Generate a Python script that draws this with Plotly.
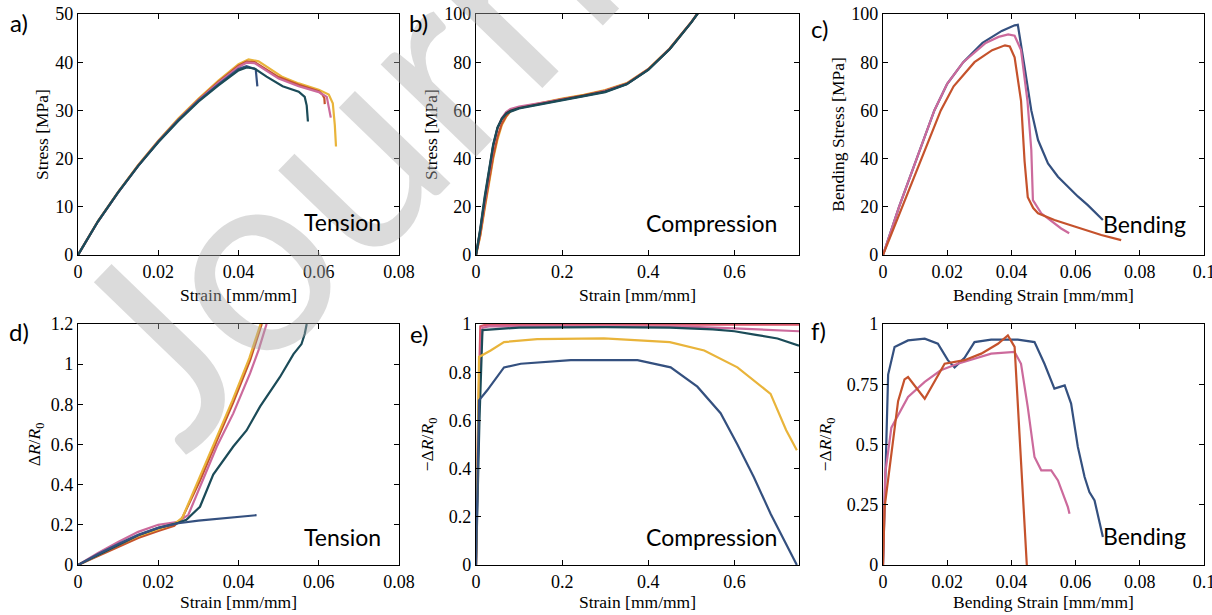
import plotly.graph_objects as go

# ---------------- data ----------------
# a) tension stress-strain
a_gold_x = [0, 0.005, 0.01, 0.015, 0.02, 0.025, 0.03, 0.035, 0.04, 0.0425, 0.045, 0.048, 0.051, 0.055, 0.06, 0.0625, 0.0635, 0.064, 0.0643]
a_gold_y = [0, 7.1, 13.1, 18.7, 23.7, 28.3, 32.4, 36.2, 39.6, 40.6, 40.2, 38.5, 36.9, 35.6, 34.3, 33.3, 31.5, 27, 22.5]
a_orange_x = [0, 0.005, 0.01, 0.015, 0.02, 0.025, 0.03, 0.035, 0.04, 0.042, 0.044, 0.047, 0.05, 0.055, 0.06, 0.061, 0.0614, 0.0615]
a_orange_y = [0, 7, 13, 18.6, 23.6, 28.1, 32.2, 35.9, 39.3, 40.1, 40, 38.4, 36.9, 35.3, 34, 33.2, 32.5, 31.3]
a_pink_x = [0, 0.005, 0.01, 0.015, 0.02, 0.025, 0.03, 0.035, 0.04, 0.042, 0.044, 0.047, 0.05, 0.055, 0.06, 0.062, 0.0625, 0.063]
a_pink_y = [0, 7, 13, 18.5, 23.5, 28, 32.1, 35.7, 39, 39.9, 39.8, 38.2, 36.6, 35, 33.8, 32.8, 31, 28.5]
a_navy_x = [0, 0.005, 0.01, 0.015, 0.02, 0.025, 0.03, 0.035, 0.04, 0.042, 0.0443, 0.0445, 0.0447]
a_navy_y = [0, 7, 13, 18.5, 23.5, 28, 32, 35.4, 38.6, 39.2, 38.5, 37, 35]
a_teal_x = [0, 0.005, 0.01, 0.015, 0.02, 0.025, 0.03, 0.035, 0.04, 0.042, 0.044, 0.047, 0.051, 0.055, 0.0565, 0.057, 0.0573]
a_teal_y = [0, 7, 13, 18.5, 23.4, 27.8, 31.8, 35.2, 38.3, 38.9, 38.7, 37, 35, 33.9, 32.8, 31, 27.7]

# b) compression stress-strain
b_strain = [0, 0.01, 0.02, 0.03, 0.04, 0.05, 0.06, 0.07, 0.08, 0.1, 0.15, 0.2, 0.25, 0.3, 0.35, 0.4, 0.45, 0.5, 0.52]
b_gold = [0, 8, 19, 30, 40, 48, 54, 57.3, 59.6, 61.2, 63.2, 64.9, 66.5, 68.4, 71.3, 77.2, 85.8, 96.7, 101.7]
b_orange = [0, 8.5, 20, 31, 41, 49, 54.5, 57.6, 59.7, 61.1, 63, 64.7, 66.3, 68.2, 71.1, 77.1, 85.7, 96.6, 101.6]
b_pink = [0, 10, 22, 34, 45, 52.5, 56.8, 59.3, 60.6, 61.6, 63.1, 64.5, 66, 68, 71, 77, 85.6, 96.6, 101.6]
b_navy = [0, 10.5, 23, 35, 45.5, 52.8, 56.5, 58.8, 59.8, 61, 62.7, 64.2, 65.8, 67.8, 70.9, 76.9, 85.5, 96.5, 101.5]
b_teal = [0, 11, 24, 36, 46, 53, 56.5, 58.5, 59.5, 60.8, 62.5, 64, 65.6, 67.6, 70.8, 76.8, 85.5, 96.5, 101.5]

# c) bending stress-strain
c_navy_x = [0, 0.005, 0.0105, 0.016, 0.02, 0.025, 0.031, 0.037, 0.041, 0.042, 0.0441, 0.0462, 0.0483, 0.0514, 0.0545, 0.0576, 0.0607, 0.0638, 0.0665, 0.0685]
c_navy_y = [0, 20, 40, 60, 71, 80, 88, 93, 95.3, 95.5, 78, 60, 47.7, 38, 32.5, 28.4, 24.3, 20.7, 17.3, 14.5]
c_pink_x = [0, 0.005, 0.0105, 0.016, 0.02, 0.025, 0.032, 0.036, 0.039, 0.041, 0.043, 0.045, 0.0462, 0.0467, 0.0493, 0.0534, 0.0555, 0.058]
c_pink_y = [0, 20, 40, 60, 71, 80, 88, 90.5, 91.5, 91, 85, 64, 43.6, 22.8, 17.3, 13, 11, 9]
c_orange_x = [0, 0.006, 0.012, 0.018, 0.022, 0.0285, 0.034, 0.038, 0.0395, 0.041, 0.043, 0.0441, 0.0451, 0.0468, 0.0483, 0.0534, 0.0597, 0.068, 0.0742]
c_orange_y = [0, 20, 40, 60, 70, 80, 85, 87, 86.5, 82, 64, 39, 24, 19.5, 17.3, 14.5, 11.8, 8.3, 6.2]

# d) tension resistance change
d_navy_x = [0, 0.005, 0.01, 0.015, 0.02, 0.025, 0.03, 0.035, 0.04, 0.0445]
d_navy_y = [0, 0.055, 0.105, 0.15, 0.185, 0.208, 0.221, 0.23, 0.239, 0.248]
d_teal_x = [0, 0.005, 0.01, 0.015, 0.02, 0.025, 0.027, 0.0304, 0.0337, 0.0365, 0.0387, 0.042, 0.0454, 0.0503, 0.0537, 0.0557, 0.0565, 0.057]
d_teal_y = [0, 0.05, 0.1, 0.148, 0.185, 0.21, 0.225, 0.29, 0.45, 0.53, 0.59, 0.67, 0.79, 0.935, 1.05, 1.1, 1.15, 1.2]
d_pink_x = [0, 0.005, 0.01, 0.015, 0.02, 0.025, 0.0275, 0.0304, 0.0346, 0.0387, 0.0429, 0.045, 0.0462, 0.047]
d_pink_y = [0, 0.06, 0.115, 0.165, 0.2, 0.215, 0.25, 0.39, 0.59, 0.755, 0.955, 1.07, 1.15, 1.2]
d_orange_x = [0, 0.005, 0.01, 0.015, 0.02, 0.024, 0.026, 0.0304, 0.0346, 0.0387, 0.0429, 0.0458]
d_orange_y = [0, 0.045, 0.09, 0.135, 0.17, 0.195, 0.235, 0.42, 0.62, 0.81, 1.02, 1.2]
d_gold_x = [0, 0.005, 0.01, 0.015, 0.02, 0.024, 0.026, 0.03, 0.0345, 0.0385, 0.0427, 0.0455]
d_gold_y = [0, 0.05, 0.1, 0.145, 0.18, 0.205, 0.235, 0.42, 0.63, 0.82, 1.03, 1.2]

# e) compression resistance change
e_red_x = [0, 0.005, 0.01, 0.02, 0.3, 0.6, 0.75]
e_red_y = [0, 0.6, 0.99, 0.996, 0.997, 0.997, 0.997]
e_pink_x = [0, 0.008, 0.015, 0.03, 0.2, 0.4, 0.5, 0.6, 0.7, 0.75]
e_pink_y = [0, 0.8, 0.985, 0.99, 0.99, 0.99, 0.988, 0.982, 0.974, 0.97]
e_teal_x = [0, 0.008, 0.015, 0.05, 0.1, 0.3, 0.45, 0.55, 0.6, 0.65, 0.7, 0.75]
e_teal_y = [0, 0.6, 0.975, 0.98, 0.985, 0.987, 0.985, 0.978, 0.97, 0.955, 0.94, 0.91]
e_gold_x = [0, 0.007, 0.034, 0.065, 0.142, 0.297, 0.45, 0.53, 0.607, 0.684, 0.72, 0.745]
e_gold_y = [0, 0.863, 0.89, 0.925, 0.937, 0.94, 0.925, 0.89, 0.82, 0.71, 0.56, 0.476]
e_navy_x = [0, 0.007, 0.026, 0.065, 0.104, 0.22, 0.375, 0.452, 0.514, 0.568, 0.607, 0.645, 0.684, 0.723, 0.745]
e_navy_y = [0, 0.683, 0.725, 0.82, 0.835, 0.85, 0.85, 0.82, 0.74, 0.63, 0.5, 0.365, 0.213, 0.075, 0.0]

# f) bending resistance change
f_navy_x = [0, 0.0007, 0.0016, 0.0036, 0.0078, 0.013, 0.0171, 0.0202, 0.0223, 0.0254, 0.0285, 0.0337, 0.042, 0.0472, 0.0503, 0.0534, 0.0566, 0.0586, 0.0607, 0.0628, 0.0643, 0.0659, 0.0685]
f_navy_y = [0, 0.38, 0.79, 0.905, 0.932, 0.939, 0.918, 0.85, 0.82, 0.86, 0.925, 0.935, 0.935, 0.925, 0.835, 0.732, 0.745, 0.67, 0.49, 0.365, 0.303, 0.268, 0.116]
f_pink_x = [0, 0.0007, 0.0026, 0.0078, 0.013, 0.018, 0.0233, 0.0285, 0.0337, 0.041, 0.043, 0.0451, 0.0472, 0.0493, 0.0524, 0.0545, 0.0576, 0.0581]
f_pink_y = [0, 0.38, 0.57, 0.697, 0.76, 0.808, 0.835, 0.856, 0.877, 0.884, 0.835, 0.655, 0.448, 0.393, 0.393, 0.351, 0.24, 0.213]
f_orange_x = [0, 0.0005, 0.0047, 0.0067, 0.0078, 0.013, 0.0192, 0.0254, 0.0306, 0.0358, 0.0389, 0.041, 0.0448]
f_orange_y = [0, 0.24, 0.68, 0.77, 0.78, 0.69, 0.835, 0.85, 0.877, 0.918, 0.953, 0.905, 0.0]

# tick values
tick_strain_small = [0, 0.02, 0.04, 0.06, 0.08]
tick_strain_bend = [0, 0.02, 0.04, 0.06, 0.08, 0.1]
tick_strain_comp = [0, 0.2, 0.4, 0.6]
tick_stress_a = [0, 10, 20, 30, 40, 50]
tick_stress_bc = [0, 20, 40, 60, 80, 100]
tick_dr_d = [0, 0.2, 0.4, 0.6, 0.8, 1, 1.2]
tick_dr_e = [0, 0.2, 0.4, 0.6, 0.8, 1]
tick_dr_f = [0, 0.25, 0.5, 0.75, 1]

panel_letters = ["a)", "b)", "c)", "d)", "e)", "f)"]
mode_labels = ["Tension", "Compression", "Bending", "Tension", "Compression", "Bending"]

# ---------------- style ----------------
NAVY = "#34507f"
TEAL = "#1b4b58"
PINK = "#cc6a9c"
ORANGE = "#c5522c"
GOLD = "#e9b43a"
RED = "#d9566a"

W, H = 1212, 615
cols = [(78, 399), (476, 799), (883, 1204)]
rows = [(14, 255), (324, 565)]

fig = go.Figure()

def add(xs, ys, color, ax, width=2.2):
    fig.add_trace(go.Scatter(x=xs, y=ys, mode="lines", line=dict(color=color, width=width),
                             xaxis="x" + ("" if ax == 1 else str(ax)),
                             yaxis="y" + ("" if ax == 1 else str(ax)),
                             showlegend=False, hoverinfo="skip"))

# a
add(a_gold_x, a_gold_y, GOLD, 1)
add(a_orange_x, a_orange_y, ORANGE, 1)
add(a_pink_x, a_pink_y, PINK, 1)
add(a_navy_x, a_navy_y, NAVY, 1)
add(a_teal_x, a_teal_y, TEAL, 1)
# b
add(b_strain, b_gold, GOLD, 2)
add(b_strain, b_orange, ORANGE, 2)
add(b_strain, b_pink, PINK, 2)
add(b_strain, b_navy, "#333333", 2)
add(b_strain, b_teal, TEAL, 2)
# c
add(c_navy_x, c_navy_y, NAVY, 3)
add(c_pink_x, c_pink_y, PINK, 3)
add(c_orange_x, c_orange_y, ORANGE, 3)
# d
add(d_pink_x, d_pink_y, PINK, 4)
add(d_orange_x, d_orange_y, ORANGE, 4)
add(d_gold_x, d_gold_y, GOLD, 4)
add(d_teal_x, d_teal_y, TEAL, 4)
add(d_navy_x, d_navy_y, NAVY, 4)
# e
add(e_red_x, e_red_y, RED, 5)
add(e_pink_x, e_pink_y, PINK, 5)
add(e_teal_x, e_teal_y, TEAL, 5)
add(e_gold_x, e_gold_y, GOLD, 5)
add(e_navy_x, e_navy_y, NAVY, 5)
# f
add(f_navy_x, f_navy_y, NAVY, 6)
add(f_pink_x, f_pink_y, PINK, 6)
add(f_orange_x, f_orange_y, ORANGE, 6)

SERIF = "Liberation Serif"
SANS = "Lato"

def axis_common():
    return dict(showline=True, linecolor="black", linewidth=1.3, mirror="ticks",
                ticks="inside", ticklen=5, tickwidth=1, tickcolor="black",
                showgrid=False, zeroline=False, automargin=False,
                tickfont=dict(family=SERIF, size=18, color="black"))

xcfg = [
    ([0, 0.08], tick_strain_small, "Strain [mm/mm]", 7),
    ([0, 0.75], tick_strain_comp, "Strain [mm/mm]", 7),
    ([0, 0.1], tick_strain_bend, "Bending Strain [mm/mm]", 7),
    ([0, 0.08], tick_strain_small, "Strain [mm/mm]", 3),
    ([0, 0.75], tick_strain_comp, "Strain [mm/mm]", 3),
    ([0, 0.1], tick_strain_bend, "Bending Strain [mm/mm]", 3),
]
ycfg = [
    ([0, 50], tick_stress_a, "Stress [MPa]", 2),
    ([0, 100], tick_stress_bc, "Stress [MPa]", 2),
    ([0, 100], tick_stress_bc, "Bending Stress [MPa]", 2),
    ([0, 1.2], tick_dr_d, "Δ<i>R</i>/<i>R</i><sub>0</sub>", 5),
    ([0, 1], tick_dr_e, "−Δ<i>R</i>/<i>R</i><sub>0</sub>", 10),
    ([0, 1], tick_dr_f, "−Δ<i>R</i>/<i>R</i><sub>0</sub>", 10),
]

layout = dict(width=W, height=H, margin=dict(l=0, r=0, t=0, b=0),
              paper_bgcolor="white", plot_bgcolor="white", showlegend=False)

for i in range(6):
    r, c = divmod(i, 3)
    x0, x1 = cols[c]
    y0, y1 = rows[r]
    n = "" if i == 0 else str(i + 1)
    xa = axis_common()
    xa.update(domain=[x0 / W, x1 / W], range=xcfg[i][0], tickvals=xcfg[i][1],
              anchor="y" + n, ticklabeloverflow="allow",
              title=dict(text=xcfg[i][2], font=dict(family=SERIF, size=17.5, color="black"),
                         standoff=xcfg[i][3]))
    ya = axis_common()
    ya.update(domain=[1 - y1 / H, 1 - y0 / H], range=ycfg[i][0], tickvals=ycfg[i][1],
              anchor="x" + n,
              title=dict(text=ycfg[i][2], font=dict(family=SERIF, size=17.5, color="black"),
                         standoff=ycfg[i][3]))
    layout["xaxis" + n] = xa
    layout["yaxis" + n] = ya

fig.update_layout(**layout)

# watermark (drawn first so other annotations sit above it)
fig.add_annotation(text="Journal", xref="paper", yref="paper", x=402 / W, y=1 - 88 / H,
                   xanchor="center", yanchor="middle", textangle=-46, showarrow=False,
                   font=dict(family=SANS, size=262, color="rgba(170,170,170,0.42)"))

# mode labels inside plots
label_pos = [(0.95, 0.135), (0.938, 0.133), (0.95, 0.13), (0.95, 0.116), (0.938, 0.116), (0.95, 0.12)]
for i in range(6):
    n = "" if i == 0 else str(i + 1)
    fig.add_annotation(text=mode_labels[i], xref="x" + n + " domain", yref="y" + n + " domain",
                       x=label_pos[i][0], y=label_pos[i][1], xanchor="right", yanchor="middle",
                       showarrow=False, font=dict(family=SANS, size=23, color="black"))

# panel letters
letter_pos = [(19, 23), (418, 23), (819, 28), (19, 331), (419, 333), (818, 330)]
for i in range(6):
    px, py = letter_pos[i]
    fig.add_annotation(text=panel_letters[i], xref="paper", yref="paper",
                       x=px / W, y=1 - py / H, xanchor="center", yanchor="middle",
                       showarrow=False, font=dict(family=SANS, size=24, color="black"))

fig.write_html(
    "out.html",
    config={"displayModeBar": False},
    post_script="document.body.style.margin='0';document.body.style.padding='0';"
                "document.body.style.overflow='hidden';",
)
